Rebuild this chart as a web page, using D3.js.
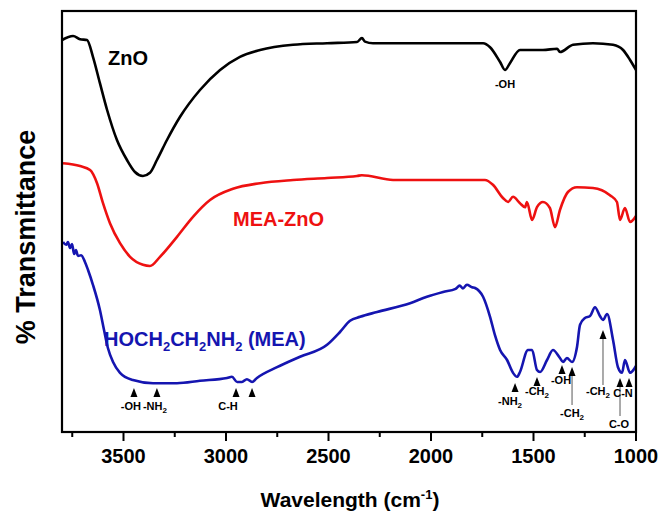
<!DOCTYPE html>
<html><head><meta charset="utf-8">
<script src="https://cdn.jsdelivr.net/npm/d3@7"></script>
<style>body{margin:0;background:#fff}svg{display:block}text{font-family:"Liberation Sans",Arial,sans-serif;font-weight:bold}</style>
</head><body><svg id="c" width="669" height="523"></svg>
<script>
// ---- data: [wavenumber (cm-1), % transmittance (a.u.)] ----
const znoWn = [3800,3746,3712,3678,3649,3615,3580,3532,3483,3444,3405,3371,3337,3288,3224,3127,3029,2932,2834,2673,2507,2361,2337,2322,2283,2020,1746,1712,1663,1639,1615,1566,1454,1385,1371,1307,1210,1112,1063,1029,1000];
const znoT  = [98,99,98.2,98,93.8,87.2,80.5,73,68,65,64,64.8,68,73,78.8,85.5,90.5,93.8,95.5,96.8,97.2,97.5,98.5,97.6,97.2,97.2,97.2,96.2,92.5,90.5,92.2,95.5,95.5,95.8,95,96.8,97.2,96.8,95.5,93,90.5];

const meaZnoWn = [3795,3712,3663,3629,3600,3566,3517,3468,3405,3371,3322,3239,3161,3078,2966,2834,2673,2507,2361,2337,2185,2020,1737,1698,1649,1624,1600,1566,1541,1532,1507,1483,1454,1420,1395,1371,1332,1288,1210,1127,1093,1078,1054,1029,1000];
const meaZnoT  = [67.2,66.5,65.5,62.2,57.2,52.2,47.2,43.8,41.8,41.5,43.8,48.8,53.8,58,60.8,62.2,63,63.5,64,64.2,63,63,63,61.8,58.5,57.5,58.8,57.2,56.2,57.5,53,56.2,57.5,56,51.2,55.5,60,61.2,61,59.2,57.5,53,56,52.5,54];

const meaWn = [3795,3780,3771,3761,3751,3741,3732,3722,3707,3688,3673,3649,3615,3595,3576,3551,3517,3454,3356,3239,3127,2995,2971,2946,2922,2898,2873,2849,2751,2639,2507,2444,2395,2346,2263,2102,2020,1941,1880,1860,1844,1825,1800,1785,1746,1712,1688,1663,1629,1600,1580,1566,1527,1507,1483,1468,1434,1405,1371,1356,1337,1312,1288,1273,1249,1224,1200,1176,1161,1141,1112,1088,1068,1054,1029,1000];
const meaT  = [47.5,46.8,47.5,46,47,44.5,45.5,44,44.2,42.5,40.5,36.8,30.5,25.5,21,17.5,14.8,13,12.2,12.2,12.8,13.5,13.8,12.5,12.5,13.2,12.5,13.5,16.2,18.8,21.8,25,27.8,28.8,30,32.2,33.8,35,35.8,36.6,35.9,36.8,36.2,36,33.8,28.8,24.2,20.5,18,14.8,13.8,15,20.5,20.5,15.5,15,18,20.5,18.5,17.5,18.5,17.5,21.2,26.8,28.5,29,31.2,29,28,29.5,23,16.2,14.8,18,14.8,16.5];

const xTicksMajor = [3500,3000,2500,2000,1500,1000];
const xTicksMinor = [3750,3250,2750,2250,1750,1250];

// band annotations on the MEA spectrum: wavenumber, arrow-tip transmittance, label
const annWn    = [3449,3337,2951,2873,1590,1483,1361,1312,1161,1078,1034];
const annTip   = [11,11,11,11,12.25,13.75,16.75,16.25,25.5,13.5,13.5];
const annLabel = ["-OH","-NH\u2082","C-H","","-NH\u2082","-CH\u2082","-OH","-CH\u2082","-CH\u2082","C-O","C-N"];
const annStem  = [false,false,false,false,false,false,false,true,true,true,false];

// ---- layout ----
const W=669,H=523, L=62,R=636,T=11,B=432;
const svg=d3.select("#c");
const x=d3.scaleLinear().domain([3800,1000]).range([L,R]);
const y=d3.scaleLinear().domain([0,105]).range([B,B-420]);

const line=d3.line().x(d=>x(d[0])).y(d=>y(d[1])).curve(d3.curveMonotoneX);
const series=[
  {wn:znoWn,t:znoT,color:"#000000"},
  {wn:meaZnoWn,t:meaZnoT,color:"#ee1111"},
  {wn:meaWn,t:meaT,color:"#1515b0"}
];
series.forEach(s=>{
  svg.append("path").datum(s.wn.map((w,i)=>[w,s.t[i]]))
    .attr("d",line).attr("fill","none").attr("stroke",s.color)
    .attr("stroke-width",2.6).attr("stroke-linejoin","round");
});

// frame
svg.append("rect").attr("x",L).attr("y",T).attr("width",R-L).attr("height",B-T)
  .attr("fill","none").attr("stroke","#000").attr("stroke-width",2.2);

// x axis ticks
const ax=svg.append("g");
xTicksMajor.forEach(v=>{
  ax.append("line").attr("x1",x(v)).attr("x2",x(v)).attr("y1",B).attr("y2",B+9).attr("stroke","#000").attr("stroke-width",2);
  ax.append("text").attr("x",x(v)).attr("y",B+31).attr("text-anchor","middle").attr("font-size",20).text(v);
});
xTicksMinor.forEach(v=>{
  ax.append("line").attr("x1",x(v)).attr("x2",x(v)).attr("y1",B).attr("y2",B+5).attr("stroke","#000").attr("stroke-width",2);
});

// axis titles
const xt=svg.append("text").attr("x",350).attr("y",507).attr("text-anchor","middle").attr("font-size",21);
xt.append("tspan").text("Wavelength (cm");
xt.append("tspan").attr("font-size",13).attr("dy",-8).text("-1");
xt.append("tspan").attr("dy",8).text(")");
svg.append("text").attr("transform","translate(35,237) rotate(-90)").attr("text-anchor","middle")
  .attr("font-size",27).text("% Transmittance");

// series labels
svg.append("text").attr("x",108).attr("y",65).attr("font-size",20).attr("fill","#000").text("ZnO");
svg.append("text").attr("x",233).attr("y",226).attr("font-size",20).attr("fill","#ee1111").text("MEA-ZnO");
const ml=svg.append("text").attr("x",104).attr("y",346).attr("font-size",20).attr("fill","#1515b0");
[["HOCH",0],["2",1],["CH",0],["2",1],["NH",0],["2",1],[" (MEA)",0]].forEach(([s,sub],i,arr)=>{
  const prev=i>0?arr[i-1][1]:0;
  const dy=sub&&!prev?5:(!sub&&prev?-5:0);
  ml.append("tspan").attr("dy",dy).attr("font-size",sub?13:20).text(s);
});

// ZnO -OH label
svg.append("text").attr("x",x(1639)).attr("y",88).attr("text-anchor","middle").attr("font-size",11).text("-OH");

// annotations
const labelPos = [[-3,22],[-2,22],[-8,22],[0,0],[-5,22],[0,18],[-1,19],[0,50],[-5,65],[-1,50],[-6,19]];
const ag=svg.append("g");
annWn.forEach((w,i)=>{
  const px=x(w), py=y(annTip[i]);
  if(annStem[i]){
    ag.append("line").attr("x1",px).attr("x2",px).attr("y1",py+6).attr("y2",py+(i===8?55:38))
      .attr("stroke","#666").attr("stroke-width",1.1);
  }
  ag.append("path").attr("d",`M${px},${py}L${px-3.5},${py+9}L${px+3.5},${py+9}Z`).attr("fill","#000");
  if(annLabel[i]){
    const t=ag.append("text").attr("x",px+labelPos[i][0]).attr("y",py+labelPos[i][1])
      .attr("text-anchor","middle").attr("font-size",11);
    const lab=annLabel[i];
    if(lab.includes("\u2082")){
      t.append("tspan").text(lab.replace("\u2082",""));
      t.append("tspan").attr("font-size",8).attr("dy",3).text("2");
    } else t.text(lab);
  }
});
</script></body></html>
